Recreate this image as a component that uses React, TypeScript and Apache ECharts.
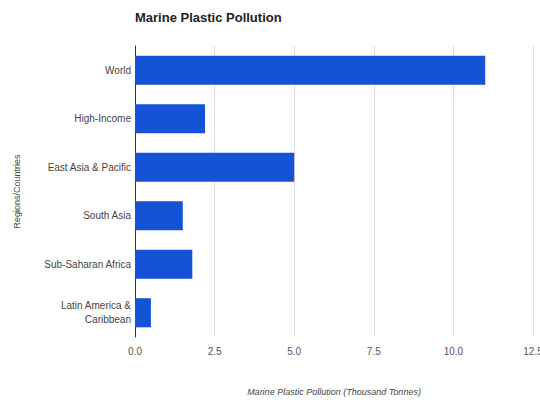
import React, { useEffect, useRef } from "react";
import * as echarts from "echarts";

const categories = [
  "World",
  "High-Income",
  "East Asia & Pacific",
  "South Asia",
  "Sub-Saharan Africa",
  "Latin America &\nCaribbean",
];
const values = [11.0, 2.2, 5.0, 1.5, 1.8, 0.5];
const xTicks = { min: 0, max: 12.5, interval: 2.5 };

export default function App() {
  const ref = useRef<HTMLDivElement>(null);
  useEffect(() => {
    const chart = echarts.init(ref.current!, null, { renderer: "svg" });
    chart.setOption({
      animation: false,
      textStyle: { fontFamily: "Liberation Sans, Arial, sans-serif" },
      title: {
        text: "Marine Plastic Pollution",
        left: 130,
        top: 6,
        textStyle: { fontSize: 13, fontWeight: "bold", color: "#222" },
      },
      grid: {
        left: 135,
        right: 7,
        top: 46,
        bottom: 66,
        containLabel: false,
        outerBoundsMode: "none",
      },
      xAxis: {
        type: "value",
        min: xTicks.min,
        max: xTicks.max,
        interval: xTicks.interval,
        name: "Marine Plastic Pollution (Thousand Tonnes)",
        nameLocation: "middle",
        nameGap: 50,
        nameTextStyle: { fontStyle: "italic", fontSize: 9, color: "#444" },
        axisLine: { show: false },
        axisTick: { show: false },
        axisLabel: {
          fontSize: 10,
          color: "#555",
          margin: 9,
          formatter: (v: number) => v.toFixed(1),
        },
        splitLine: { show: true, lineStyle: { color: "#dcdcdc", width: 1 } },
      },
      yAxis: {
        type: "category",
        inverse: true,
        data: categories,
        name: "Regions/Countries",
        nameLocation: "middle",
        nameGap: 114,
        nameRotate: 90,
        nameTextStyle: { fontSize: 9, color: "#444" },
        axisLine: { show: true, lineStyle: { color: "#333", width: 1 } },
        axisTick: { show: false },
        axisLabel: { fontSize: 10, color: "#444", margin: 4, lineHeight: 14 },
      },
      series: [
        {
          type: "bar",
          data: values,
          barCategoryGap: "40%",
          itemStyle: { color: "#1553d6" },
        },
      ],
    });
    return () => chart.dispose();
  }, []);
  return (
    <div
      ref={ref}
      style={{ position: "absolute", left: 0, top: 0, width: 540, height: 403 }}
    />
  );
}
